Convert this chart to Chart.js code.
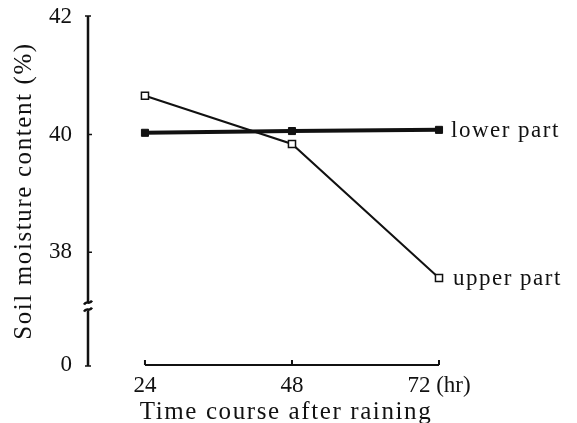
<!DOCTYPE html>
<html>
<head>
<meta charset="utf-8">
<script src="https://cdn.jsdelivr.net/npm/chart.js@4.4.0/dist/chart.umd.min.js"></script>
<style>
  html, body { margin: 0; padding: 0; background: #fff; }
</style>
</head>
<body>
<canvas id="myChart" width="577" height="423"></canvas>
<script>
// hours after raining
const hours = [24, 48, 72];
// soil moisture content (%)
const lowerPart = [40.03, 40.06, 40.08];
const upperPart = [40.66, 39.84, 37.56];

const yTicks = [38, 40, 42];
// the y axis is broken: its foot stands for 0
const yFoot = 36.08;
const yFootLabel = '0';
const xMin = 14.7;

const serif = "'Liberation Serif', 'DejaVu Serif', serif";
const ink = '#111';

// axis lines, tick marks, the break squiggle and the text around the plot
const paperAxes = {
  id: 'paperAxes',
  afterDraw(chart) {
    const c = chart.ctx;
    const xs = chart.scales.x, ys = chart.scales.y;
    const left = chart.chartArea.left;
    const yTop = ys.getPixelForValue(yTicks[yTicks.length - 1]);
    const yBot = ys.getPixelForValue(yFoot);
    c.save();
    c.strokeStyle = ink;
    c.fillStyle = ink;

    // y axis
    c.lineWidth = 2.5;
    c.beginPath();
    c.moveTo(left, yTop - 1);
    c.lineTo(left, yBot + 1);
    c.stroke();
    c.lineWidth = 1.5;
    c.beginPath();
    c.moveTo(left - 3, yTop - 1); c.lineTo(left + 3, yTop - 1);
    c.moveTo(left - 3, yBot + 1); c.lineTo(left + 3, yBot + 1);
    yTicks.slice(0, -1).forEach(v => {
      const p = ys.getPixelForValue(v);
      c.moveTo(left, p); c.lineTo(left + 4, p);
    });
    c.stroke();

    // break mark between 0 and 38
    const yb = (yBot + ys.getPixelForValue(yTicks[0])) / 2 - 2;
    c.fillStyle = '#fff';
    c.fillRect(left - 4, yb - 4, 8, 8);
    c.lineWidth = 2.5;
    c.beginPath();
    c.moveTo(left - 4, yb - 2);
    c.bezierCurveTo(left - 1, yb - 7, left + 1, yb - 1, left + 4, yb - 6);
    c.moveTo(left - 4, yb + 5);
    c.bezierCurveTo(left - 1, yb, left + 1, yb + 6, left + 4, yb + 1);
    c.stroke();

    // x axis, only between the first and last sampling time
    const x0 = xs.getPixelForValue(hours[0]);
    const x1 = xs.getPixelForValue(hours[hours.length - 1]);
    c.lineWidth = 2;
    c.beginPath();
    c.moveTo(x0, yBot); c.lineTo(x1, yBot);
    hours.forEach(h => {
      const p = xs.getPixelForValue(h);
      c.moveTo(p, yBot); c.lineTo(p, yBot - 5);
    });
    c.stroke();

    // series names at the line ends
    c.fillStyle = ink;
    c.font = '23px ' + serif;
    c.letterSpacing = '1.5px';
    c.textBaseline = 'middle';
    c.textAlign = 'left';
    const last = hours.length - 1;
    c.fillText('lower part', x1 + 12, ys.getPixelForValue(lowerPart[last]) + 1);
    c.fillText('upper part', x1 + 14, ys.getPixelForValue(upperPart[last]) + 1);

    // axis titles
    c.font = '25px ' + serif;
    c.letterSpacing = '1.6px';
    c.textAlign = 'center';
    c.fillText('Time course after raining', 286, 412);
    c.translate(24, 191);
    c.rotate(-Math.PI / 2);
    c.fillText('Soil moisture content (%)', 0, 0);
    c.restore();
  }
};

new Chart(document.getElementById('myChart'), {
  type: 'line',
  data: {
    datasets: [
      {
        label: 'lower part',
        data: hours.map((h, i) => ({ x: h, y: lowerPart[i] })),
        borderColor: ink,
        borderWidth: 4,
        pointStyle: 'rect',
        pointRadius: 5,
        pointBackgroundColor: ink,
        pointBorderColor: ink,
        pointBorderWidth: 1
      },
      {
        label: 'upper part',
        data: hours.map((h, i) => ({ x: h, y: upperPart[i] })),
        borderColor: ink,
        borderWidth: 2,
        pointStyle: 'rect',
        pointRadius: 5,
        pointBackgroundColor: '#fff',
        pointBorderColor: ink,
        pointBorderWidth: 1.5
      }
    ]
  },
  options: {
    responsive: false,
    animation: false,
    clip: false,
    layout: { padding: { top: 17, right: 138, left: 0, bottom: 0 } },
    plugins: { legend: { display: false }, tooltip: { enabled: false } },
    scales: {
      x: {
        type: 'linear',
        min: xMin,
        max: hours[hours.length - 1],
        border: { display: false },
        grid: { display: false, drawTicks: false },
        afterBuildTicks: s => { s.ticks = hours.map(v => ({ value: v })); },
        afterFit: s => { s.height = 58; s.paddingLeft = 0; s.paddingRight = 0; },
        ticks: {
          autoSkip: false,
          maxRotation: 0,
          padding: 7,
          color: ink,
          font: { family: serif, size: 23 },
          callback: v => v === 72 ? '72 (hr)' : String(v)
        }
      },
      y: {
        type: 'linear',
        min: yFoot,
        max: yTicks[yTicks.length - 1],
        border: { display: false },
        grid: { display: false, drawTicks: false },
        afterBuildTicks: s => { s.ticks = [yFoot].concat(yTicks).map(v => ({ value: v })); },
        afterFit: s => { s.width = 88; s.paddingTop = 0; s.paddingBottom = 0; },
        ticks: {
          padding: 16,
          color: ink,
          font: { family: serif, size: 23 },
          callback: v => v === yFoot ? yFootLabel : String(v)
        }
      }
    }
  },
  plugins: [paperAxes]
});
</script>
</body>
</html>
